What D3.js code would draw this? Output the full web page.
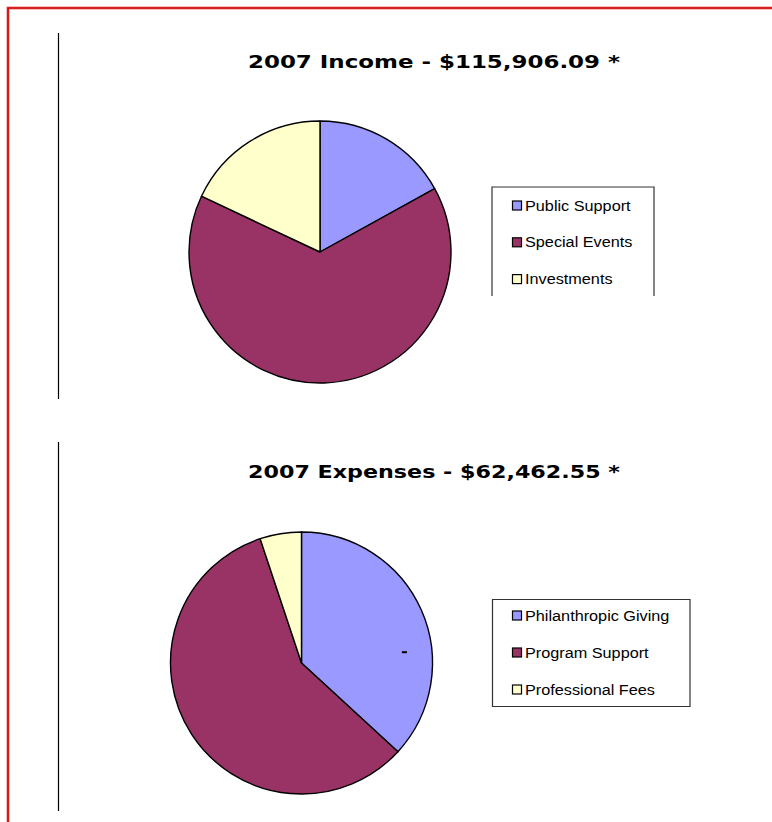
<!DOCTYPE html>
<html>
<head>
<meta charset="utf-8">
<script src="https://cdn.jsdelivr.net/npm/d3@7"></script>
<style>
  body { margin: 0; background: #fff; }
  svg { display: block; }
</style>
</head>
<body>
<script>
// income chart data
const incomeTitle = "2007 Income - $115,906.09 *";
const incomeCategories = ["Public Support", "Special Events", "Investments"];
const incomeValues = [19670, 75373, 20863];

// expenses chart data
const expenseTitle = "2007 Expenses - $62,462.55 *";
const expenseCategories = ["Philanthropic Giving", "Program Support", "Professional Fees"];
const expenseValues = [23006, 36264, 3193];

const colors = ["#9999ff", "#993366", "#ffffcc"];

const width = 772, height = 822;

var svg = d3.select("body")
  .append("svg")
  .attr("width", width)
  .attr("height", height);

// red page frame
svg.append("path")
  .attr("d", "M8," + height + "V8H" + width)
  .attr("fill", "none")
  .attr("stroke", "#f08080")
  .attr("stroke-width", 3);
svg.append("path")
  .attr("d", "M8," + height + "V8H" + width)
  .attr("fill", "none")
  .attr("stroke", "#cc0000")
  .attr("stroke-width", 1.6);

function drawChart(opt) {
  var g = svg.append("g");

  // vertical rule on the left
  g.append("line")
    .attr("x1", 58.5).attr("x2", 58.5)
    .attr("y1", opt.ruleTop).attr("y2", opt.ruleBottom)
    .attr("stroke", "#000")
    .attr("stroke-width", 1.2);

  // title
  g.append("text")
    .attr("x", 248)
    .attr("y", opt.titleY)
    .attr("textLength", 372)
    .attr("lengthAdjust", "spacingAndGlyphs")
    .style("font-family", "'DejaVu Sans', Verdana, sans-serif")
    .style("font-weight", "bold")
    .style("font-size", "17px")
    .text(opt.title);

  var pie = d3.pie().sort(null).value(function (d) { return d; });
  var arc = d3.arc().innerRadius(0).outerRadius(opt.r);

  var pg = g.append("g")
    .attr("transform", "translate(" + opt.cx + "," + opt.cy + ")");

  pg.selectAll("path")
    .data(pie(opt.values))
    .enter()
    .append("path")
    .attr("d", arc)
    .attr("fill", function (d, i) { return colors[i]; })
    .attr("stroke", "#000")
    .attr("stroke-width", 1.4)
    .attr("stroke-linejoin", "round");

  if (opt.stray) {
    var p = d3.pointRadial(opt.stray.angle, opt.stray.radius * opt.r);
    pg.append("rect")
      .attr("x", p[0] - 2.5).attr("y", p[1] - 1)
      .attr("width", 5).attr("height", 2)
      .attr("fill", "#000");
  }

  // legend
  var lg = g.append("g");
  var b = opt.legendBox;
  var boxPath = "M" + b.x0 + "," + b.y1 + "V" + b.y0 + "H" + b.x1 + "V" + b.y1;
  if (b.closed) boxPath += "Z";
  lg.append("path")
    .attr("d", boxPath)
    .attr("fill", "#fff")
    .attr("stroke", "#333")
    .attr("stroke-width", 1.2);

  var item = lg.selectAll("g.item")
    .data(opt.categories)
    .enter()
    .append("g")
    .attr("class", "item")
    .attr("transform", function (d, i) {
      return "translate(512," + (opt.legendTop + i * opt.legendStep) + ")";
    });

  item.append("rect")
    .attr("x", 0.5).attr("y", 0.5)
    .attr("width", 9).attr("height", 9)
    .attr("fill", function (d, i) { return colors[i]; })
    .attr("stroke", "#000")
    .attr("stroke-width", 1.2);

  item.append("text")
    .attr("transform", "translate(13,10) scale(1.16,1)")
    .style("font-family", "'Liberation Sans', Arial, sans-serif")
    .style("font-size", "14px")
    .attr("fill", "#000")
    .text(function (d) { return d; });
}

drawChart({
  title: incomeTitle,
  titleY: 67.5,
  categories: incomeCategories,
  values: incomeValues,
  cx: 320, cy: 252, r: 131,
  ruleTop: 33, ruleBottom: 399,
  legendBox: { x0: 492, y0: 187, x1: 654, y1: 296, closed: false },
  legendTop: 200.5,
  legendStep: 36.8
});

drawChart({
  title: expenseTitle,
  titleY: 477.5,
  categories: expenseCategories,
  values: expenseValues,
  cx: 301.5, cy: 663, r: 131,
  ruleTop: 442, ruleBottom: 811,
  legendBox: { x0: 492.5, y0: 599.5, x1: 690, y1: 706.5, closed: true },
  legendTop: 610.5,
  legendStep: 37,
  stray: { angle: 84 * Math.PI / 180, radius: 0.79 }
});
</script>
</body>
</html>
